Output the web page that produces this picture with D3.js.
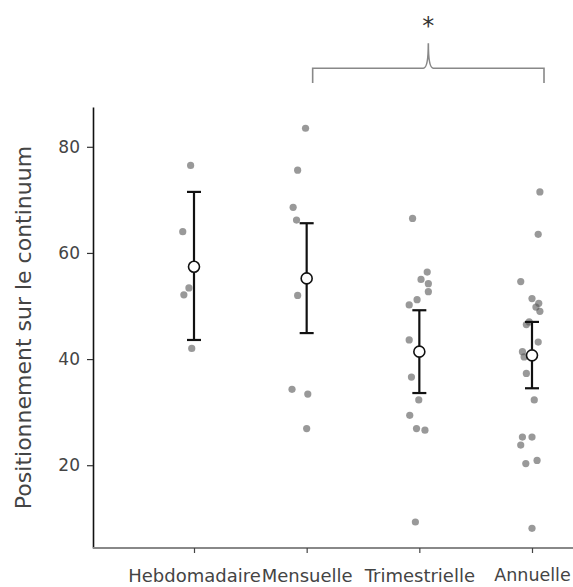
<!DOCTYPE html>
<html>
<head>
<meta charset="utf-8">
<script src="https://cdn.jsdelivr.net/npm/d3@7/dist/d3.min.js"></script>
<style>
  html, body { margin: 0; padding: 0; background: #fff; }
  svg { display: block; }
  text { font-family: "DejaVu Sans", sans-serif; }
</style>
</head>
<body>
<script>
// ---------- data ----------
const categories = ["Hebdomadaire", "Mensuelle", "Trimestrielle", "Annuelle"];

const valuesHebdomadaire  = [76.5, 64, 53.4, 52.1, 42];
const valuesMensuelle     = [83.5, 75.6, 68.6, 66.2, 52, 34.3, 33.4, 26.9];
const valuesTrimestrielle = [66.5, 56.4, 55, 54.2, 52.7, 51.2, 50.2, 43.6, 36.6, 32.3, 29.4, 26.9, 26.6, 9.3];
const valuesAnnuelle      = [71.5, 63.5, 54.6, 51.4, 50.5, 49.8, 49, 47, 46.5, 43.2, 41.4, 40.4, 37.3, 32.3, 25.3, 25.3, 23.8, 20.3, 20.9, 8.1];

// horizontal jitter of each point, as a fraction of the category step
const jitterHebdomadaire  = [-0.03, -0.1, -0.045, -0.09, -0.02];
const jitterMensuelle     = [-0.01, -0.08, -0.12, -0.09, -0.08, -0.13, 0.01, 0];
const jitterTrimestrielle = [-0.06, 0.07, 0.015, 0.08, 0.08, -0.02, -0.09, -0.09, -0.07, -0.005, -0.085, -0.025, 0.05, -0.035];
const jitterAnnuelle      = [0.07, 0.055, -0.1, 0, 0.06, 0.035, 0.07, -0.025, -0.05, 0.055, -0.085, -0.07, -0.05, 0.02, -0.085, 0, -0.1, -0.055, 0.045, 0];

const means = [57.4, 55.2, 41.4, 40.7];
const lower = [43.6, 44.9, 33.6, 34.5];
const upper = [71.5, 65.6, 49.2, 47.0];

const yTicks = [20, 40, 60, 80];
const yLabel = "Positionnement sur le continuum";

// significance annotation between Mensuelle and Annuelle
const sigFrom = "Mensuelle", sigTo = "Annuelle", sigLabel = "*";
const sigLine = 94.8, sigDrop = 92, sigPeak = 99.5, sigText = 101.2;

// ---------- chart ----------
const W = 573, H = 587;
const svg = d3.select("body").append("svg").attr("width", W).attr("height", H);

const axisX = 93, axisBottom = 548, axisTop = 107;
const y = d3.scaleLinear().domain([4.4, 87.5]).range([axisBottom, axisTop]);
const x = d3.scalePoint().domain(categories).range([194, 532]);

const seriesValues = [valuesHebdomadaire, valuesMensuelle, valuesTrimestrielle, valuesAnnuelle];
const seriesJitter = [jitterHebdomadaire, jitterMensuelle, jitterTrimestrielle, jitterAnnuelle];

// y axis
const yAxis = svg.append("g")
  .attr("transform", `translate(${axisX},0)`)
  .call(d3.axisLeft(y).tickValues(yTicks).tickSize(6).tickPadding(7).tickSizeOuter(0));
yAxis.select(".domain").attr("stroke", "#111").attr("stroke-width", 1.6);
yAxis.selectAll(".tick line").attr("stroke", "#333").attr("stroke-width", 1.2);
yAxis.selectAll(".tick text").attr("fill", "#444").attr("font-size", 17)
  .attr("font-family", "DejaVu Sans, sans-serif");

// x axis
const xAxis = svg.append("g")
  .attr("transform", `translate(0,${axisBottom})`)
  .call(d3.axisBottom(x).tickSize(5).tickPadding(16).tickSizeOuter(0));
xAxis.select(".domain").attr("d", `M${axisX},0H${W}`).attr("stroke", "#888").attr("stroke-width", 2);
xAxis.selectAll(".tick line").attr("stroke", "#444").attr("stroke-width", 1.2);
xAxis.selectAll(".tick text").attr("fill", "#444").attr("font-size", 18)
  .attr("font-family", "DejaVu Sans, sans-serif");
// keep the last label inside the frame
xAxis.selectAll(".tick text").filter(d => d === categories[categories.length - 1])
  .attr("font-size", 17.5);

// y label
svg.append("text")
  .attr("transform", `translate(31,${(142 + 513) / 2}) rotate(-90)`)
  .attr("text-anchor", "middle")
  .attr("font-size", 22)
  .attr("fill", "#444")
  .text(yLabel);

// points
const step = x.step();
const pts = [];
categories.forEach((c, i) => {
  seriesValues[i].forEach((v, j) => pts.push({ c, v, j: seriesJitter[i][j] }));
});
svg.append("g").selectAll("circle").data(pts).join("circle")
  .attr("cx", d => x(d.c) + d.j * step)
  .attr("cy", d => y(d.v))
  .attr("r", 3.6)
  .attr("fill", "#555")
  .attr("fill-opacity", 0.6);

// error bars
const eb = svg.append("g");
const cap = 7;
categories.forEach((c, i) => {
  const cx = x(c);
  eb.append("line").attr("x1", cx).attr("x2", cx).attr("y1", y(lower[i])).attr("y2", y(upper[i]))
    .attr("stroke", "#111").attr("stroke-width", 2.2);
  eb.append("line").attr("x1", cx - cap).attr("x2", cx + cap).attr("y1", y(upper[i])).attr("y2", y(upper[i]))
    .attr("stroke", "#111").attr("stroke-width", 2.2);
  eb.append("line").attr("x1", cx - cap).attr("x2", cx + cap).attr("y1", y(lower[i])).attr("y2", y(lower[i]))
    .attr("stroke", "#111").attr("stroke-width", 2.2);
  eb.append("circle").attr("cx", cx).attr("cy", y(means[i])).attr("r", 5.5)
    .attr("fill", "#fff").attr("stroke", "#111").attr("stroke-width", 1.6);
});

// significance bracket
const bx1 = x(sigFrom) + 6, bx2 = x(sigTo) + 12, bm = (bx1 + bx2) / 2;
const bl = y(sigLine), bd = y(sigDrop), bp = y(sigPeak);
svg.append("path")
  .attr("d", `M${bx1},${bd}V${bl}H${bm - 5}Q${bm},${bl} ${bm},${bp}Q${bm},${bl} ${bm + 5},${bl}H${bx2}V${bd}`)
  .attr("fill", "none").attr("stroke", "#888").attr("stroke-width", 1.6);
svg.append("text")
  .attr("x", bm).attr("y", y(sigText))
  .attr("text-anchor", "middle")
  .attr("font-size", 24)
  .attr("fill", "#333")
  .text(sigLabel);
</script>
</body>
</html>
